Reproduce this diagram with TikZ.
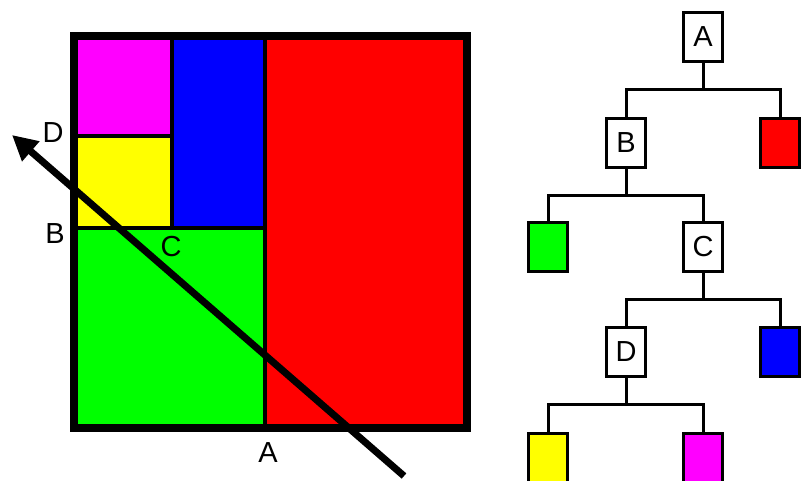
\documentclass[tikz,border=0pt]{standalone}
\usepackage{fontspec}
\setmainfont{Liberation Sans}
\usetikzlibrary{arrows.meta}
\definecolor{pmagenta}{RGB}{255,0,255}
\definecolor{pyellow}{RGB}{255,255,0}

\begin{document}
\begin{tikzpicture}[x=.02cm, y=-.02cm, font=\fontsize{16.5}{20}\selectfont,
    tnode/.style={draw, line width=2pt, fill=white, minimum width=.78cm, minimum height=.98cm, inner sep=0pt},
    leaf/.style={tnode, fill=#1},
    link/.style={line width=1.7pt}]
    \useasboundingbox (0,0) rectangle (801,480);
    \clip (0,0) rectangle (801,480);
    \fill[red] (265,36) rectangle (467,428);
    \fill[green] (74,228) rectangle (265,428);
    \fill[blue] (172,36) rectangle (265,228);
    \fill[pmagenta] (74,36) rectangle (172,136);
    \fill[pyellow] (74,136) rectangle (172,228);
    \draw[line width=2.3pt] (265,36) -- (265,428) (74,228) -- (265,228)
      (172,36) -- (172,228) (74,136) -- (172,136);
    \draw[line width=4pt] (74,36) rectangle (467,428);
    \node (lD) at (53,133) {D};
    \node (lB) at (55,234) {B};
    \node (lC) at (171,247) {C};
    \node (lA) at (268,453) {A};
    \coordinate (tail) at (404,476);
    \coordinate (tip) at (12,135);
    \draw[line width=4pt, -{Triangle[length=.5cm,width=.5cm]}] (tail) -- (tip);
    \node[tnode] (A) at (703,37) {A};
    \node[tnode] (B) at (626,143) {B};
    \node[leaf=red] (r) at (780,143) {};
    \node[leaf=green] (g) at (548,247) {};
    \node[tnode] (C) at (703,247) {C};
    \node[tnode] (D) at (626,352) {D};
    \node[leaf=blue] (b) at (780,352) {};
    \node[leaf=pyellow] (y) at (548,458) {};
    \node[leaf=pmagenta] (m) at (703,458) {};
    \foreach \p/\c in {A/B,A/r,B/g,B/C,C/D,C/b,D/y,D/m}
      \draw[link] (\p.south) -- ++(0,26) -| (\c.north);
  \end{tikzpicture}
\end{document}
